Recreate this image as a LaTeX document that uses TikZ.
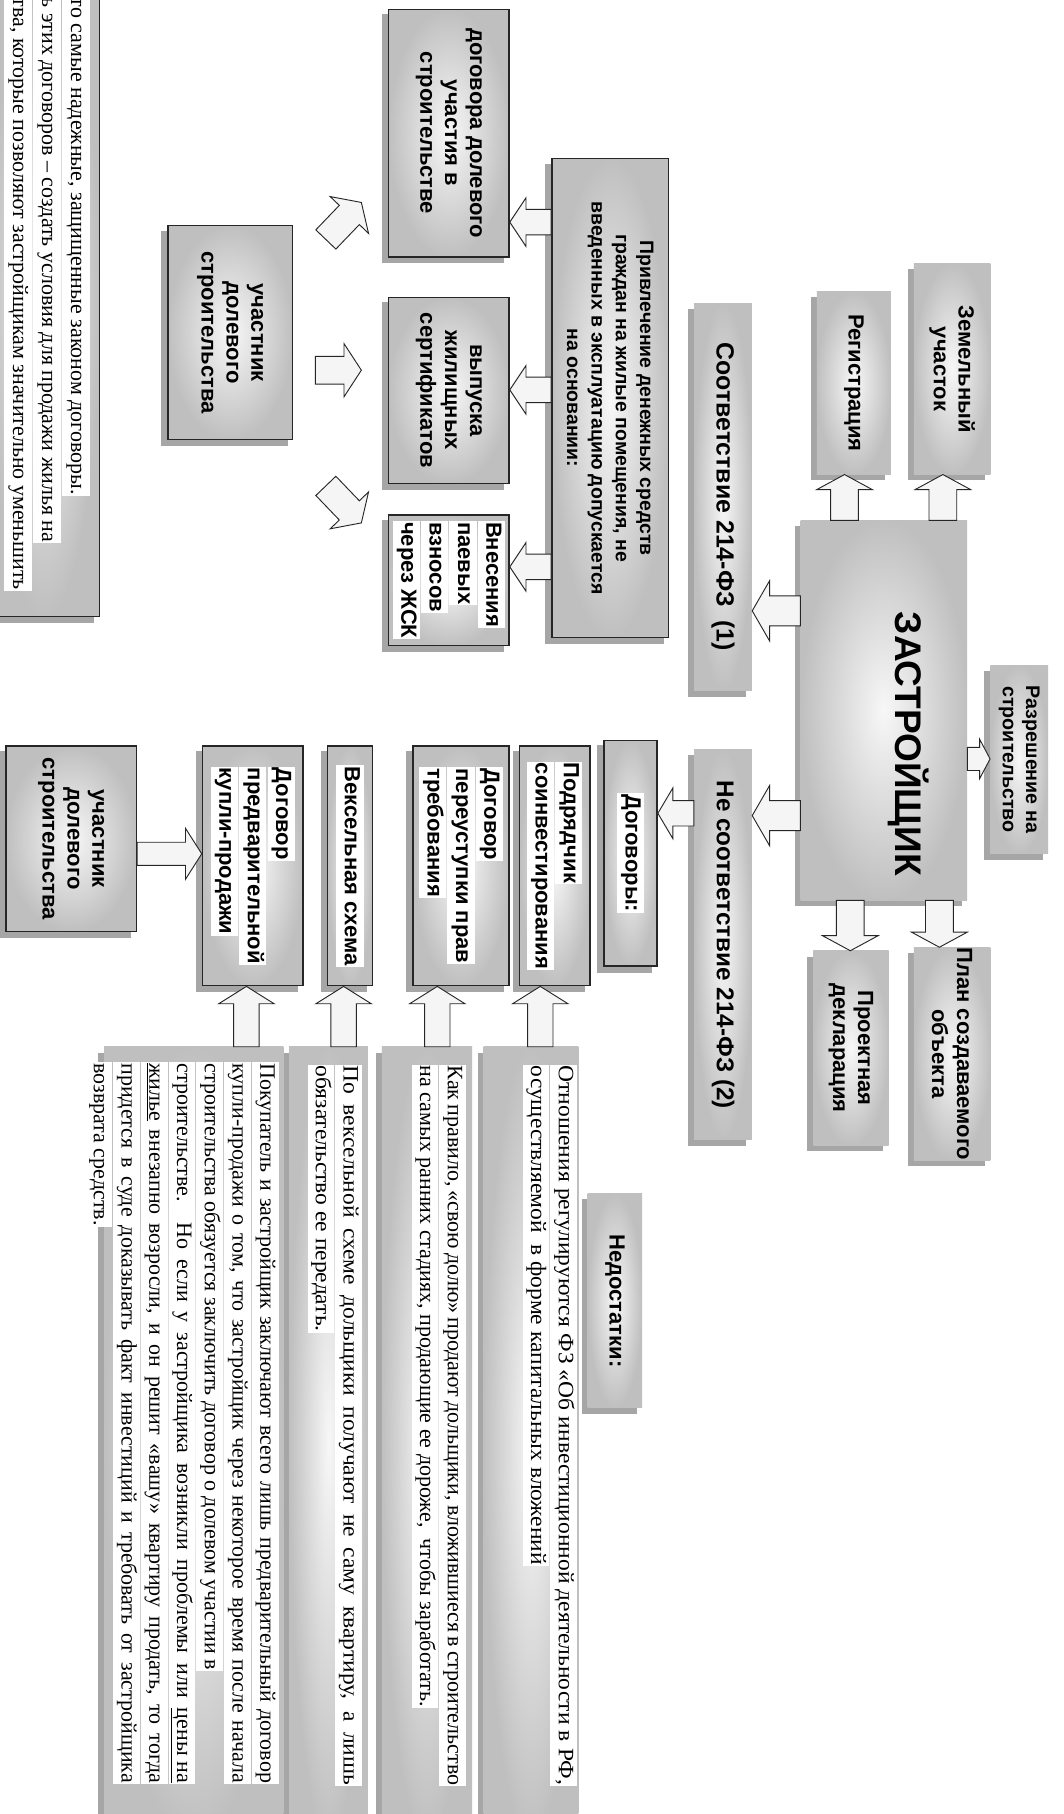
\documentclass[tikz,border=0pt]{standalone}
\usepackage{fontspec}
\setmainfont{Liberation Serif}
\newfontfamily\sansb{Liberation Sans}
\newfontfamily\serifw[FakeStretch=1.07]{Liberation Serif}
\usetikzlibrary{calc,backgrounds}
\newlength\tw
\setlength\tw{622pt}
\setlength\fboxsep{1pt}
\newcommand{\wl}[1]{\colorbox{white}{\strut #1}}
\newcommand{\jl}[1]{\colorbox{white}{\strut\makebox[\tw][s]{#1}}}
% block arrow: start, end, half body width, half head width, head length
\newcommand{\blockarr}[5]{%
  \path (#1) coordinate (ba) (#2) coordinate (bb);
  \coordinate (bh) at ($(bb)!#5pt!(ba)$);
  \draw[barr] ($(ba)!#3pt!90:(bb)$) -- ($(bh)!#3pt!90:(bb)$) -- ($(bh)!#4pt!90:(bb)$) -- (bb)
     -- ($(bh)!#4pt!-90:(bb)$) -- ($(bh)!#3pt!-90:(bb)$) -- ($(ba)!#3pt!-90:(bb)$) -- cycle;}
% box in image coordinates: name, style, x1, x2, y1, y2, text
\newcommand{\boxnode}[7]{%
  \node[#2, minimum width={(#6)-(#5)}, minimum height={(#4)-(#3)}] (#1) at ({((#5)+(#6))/2},{((#3)+(#4))/2}) {#7};}
\tikzset{
  lab/.style={transform shape, inner sep=0pt, align=center, font=\sansb\bfseries\fontsize{19}{21.5}\selectfont},
  gbox/.style={lab, inner color=gray!6, outer color=gray!50},
  bbox/.style={gbox, draw=black!85, line width=1.3pt},
  lbox/.style={bbox, align=left},
  barr/.style={draw=black!85, line width=0.8pt, fill=gray!8},
  shad/.style={fill=gray!70},
  ptext/.style={transform shape, inner sep=0pt, align=left, anchor=north west, font=\fontsize{19}{21}\selectfont},
}
\begin{document}
\begin{tikzpicture}[x=1pt,y=1pt]
\useasboundingbox (0,0) rectangle (919,-1568);
\begin{scope}[rotate=-90]
\boxnode{tl}{bbox}{-10}{86}{-10}{533}{}
\boxnode{dol1}{bbox}{336}{440}{8}{222}{договора долевого\\участия в\\строительстве}
\boxnode{vyp}{bbox}{336}{440}{257}{418}{выпуска\\жилищных\\сертификатов}
\boxnode{vnes}{lbox}{336}{440}{445}{558}{\wl{Внесения}\\\wl{паевых}\\\wl{взносов}\\\wl{через ЖСК}}
\boxnode{uch1}{bbox}{145}{253}{195}{380}{участник\\долевого\\строительства}
\boxnode{priv}{bbox,font=\sansb\bfseries\fontsize{16.8}{21}\selectfont}{477}{578}{137}{551}{Привлечение денежных средств\\граждан на жилые помещения, не\\введенных в эксплуатацию допускается\\на основании:}
\boxnode{sootv1}{gbox,font=\sansb\bfseries\fontsize{21.5}{23}\selectfont}{600}{650}{262}{597}{Соответствие 214-ФЗ\ \ (1)}
\boxnode{reg}{gbox}{706}{770}{252}{410}{Регистрация}
\boxnode{zem}{gbox}{790}{856}{228}{410}{Земельный\\участок}
\boxnode{zas}{gbox}{692}{836}{450}{778}{}
\node[lab, font=\sansb\bfseries\fontsize{32}{34}\selectfont] (zaslab) at ($(zas.center)+(29,21)$) {ЗАСТРОЙЩИК};
\boxnode{razr}{gbox,font=\sansb\bfseries\fontsize{17}{20}\selectfont}{856}{906}{575}{738}{Разрешение на\\строительство}
\boxnode{nesootv}{gbox,font=\sansb\bfseries\fontsize{21}{23}\selectfont}{600}{650}{648}{985}{Не соответствие 214-ФЗ (2)}
\boxnode{proekt}{gbox}{703}{768}{822}{990}{Проектная\\декларация}
\boxnode{plan}{gbox}{790}{856}{822}{1000}{План создаваемого\\объекта}
\boxnode{dogovory}{lbox}{522}{568}{640}{835}{\wl{Договоры:}}
\boxnode{podr}{lbox}{449}{510}{645}{852}{\wl{Подрядчик}\\\wl{соинвестирования}}
\boxnode{pereust}{lbox}{357}{440}{645}{852}{\wl{Договор}\\\wl{переуступки прав}\\\wl{требования}}
\boxnode{veks}{lbox}{283}{322}{645}{852}{\wl{Вексельная схема}}
\boxnode{predv}{lbox}{175}{262}{645}{852}{\wl{Договор}\\\wl{предварительной}\\\wl{купли-продажи}}
\boxnode{uch2}{bbox}{5}{118}{645}{805}{участник\\долевого\\строительства}
\boxnode{nedost}{gbox}{508}{555}{1032}{1217}{Недостатки:}
\boxnode{t1}{gbox}{418}{500}{905}{1590}{}
\boxnode{t2}{gbox}{330}{408}{905}{1590}{}
\boxnode{t3}{gbox}{250}{318}{905}{1590}{}
\boxnode{t4}{gbox}{90}{245}{905}{1590}{}
\node[ptext, font=\fontsize{19}{22}\selectfont] (tltxt) at (-3,78) {\wl{то самые надежные, защищенные законом договоры.}\\\wl{ь этих договоров – создать условия для продажи жилья на}\\\wl{тва, которые позволяют застройщикам значительно уменьшить}};
\node[ptext, font=\serifw\fontsize{19}{21}\selectfont] (t1txt) at (920,499) {\jl{Отношения регулируются ФЗ «Об инвестиционной деятельности в РФ,}\\\wl{осуществляемой\ \ в форме капитальных вложений}};
\node[ptext] (t2txt) at (920,403) {\jl{Как правило, «свою долю» продают дольщики, вложившиеся в строительство}\\\wl{на самых ранних стадиях, продающие ее дороже,\ \ чтобы заработать.}};
\node[ptext, font=\serifw\fontsize{19}{21}\selectfont] (t3txt) at (920,313) {\jl{По вексельной схеме дольщики получают не саму квартиру, а лишь}\\\wl{обязательство ее передать.}};
\node[ptext] (t4txt) at (918,241) {\jl{Покупатель и застройщик заключают всего лишь предварительный договор}\\\jl{купли-продажи о том, что застройщик через некоторое время после начала}\\\wl{строительства обязуется заключить договор о долевом участии в}\\\jl{строительстве. Но если у застройщика возникли проблемы или \underline{цены на}}\\\jl{\underline{жилье} внезапно возросли, и он решит «вашу» квартиру продать, то тогда}\\\jl{придется в суде доказывать факт инвестиций и требовать от застройщика}\\\wl{возврата средств.}};
\end{scope}
% block arrows
\blockarr{$(uch1.north)+(28,80.5)$}{$(dol1.south)+(-23,-60)$}{12}{23}{15}
\blockarr{$(uch1.north)+(19,-32.5)$}{$(vyp.south)+(-23,17.5)$}{12}{23}{15}
\blockarr{$(uch1.north)+(28,-132.5)$}{$(vnes.south)+(-23,49.5)$}{12}{23}{15}
\blockarr{priv.south |- 0,-192}{dol1.north |- 0,-192}{11}{21}{14}
\blockarr{priv.south |- 0,-337}{vyp.north |- 0,-337}{11}{21}{14}
\blockarr{priv.south |- 0,-490}{vnes.north |- 0,-490}{11}{21}{14}
\blockarr{zas.west -| 730,0}{reg.east -| 730,0}{12}{24}{13}
\blockarr{zas.west -| 815,0}{zem.east -| 815,0}{12}{24}{13}
\blockarr{zas.north |- 0,-656}{razr.south |- 0,-656}{10}{17}{9}
\blockarr{zas.south |- 0,-528}{sootv1.north |- 0,-528}{13}{26}{15}
\blockarr{zas.south |- 0,-705}{nesootv.north |- 0,-705}{13}{26}{15}
\blockarr{zas.east -| 735,0}{proekt.west -| 735,0}{12}{24}{13}
\blockarr{zas.east -| 812,0}{plan.west -| 812,0}{12}{24}{13}
\blockarr{nesootv.south |- 0,-703}{dogovory.north |- 0,-703}{11}{22}{13}
\blockarr{t1.west -| 467,0}{podr.east -| 467,0}{11}{24}{15}
\blockarr{t2.west -| 378,0}{pereust.east -| 378,0}{11}{24}{15}
\blockarr{t3.west -| 297,0}{veks.east -| 297,0}{11}{24}{15}
\blockarr{t4.west -| 213,0}{predv.east -| 213,0}{11}{24}{15}
\blockarr{uch2.north |- 0,-738}{predv.south |- 0,-738}{10}{22}{14}
\begin{scope}[on background layer]
\fill[white] (0,0) rectangle (919,-1568);
\foreach \n in {tl,dol1,vyp,vnes,uch1,priv,sootv1,reg,zem,zas,razr,nesootv,proekt,plan,dogovory,podr,pereust,veks,predv,uch2,nedost,t1,t2,t3,t4}{
  \fill[shad] ([shift={(-5,-5)}]\n.south west) rectangle ([shift={(-5,-5)}]\n.north east);
}
\end{scope}
\end{tikzpicture}
\end{document}
